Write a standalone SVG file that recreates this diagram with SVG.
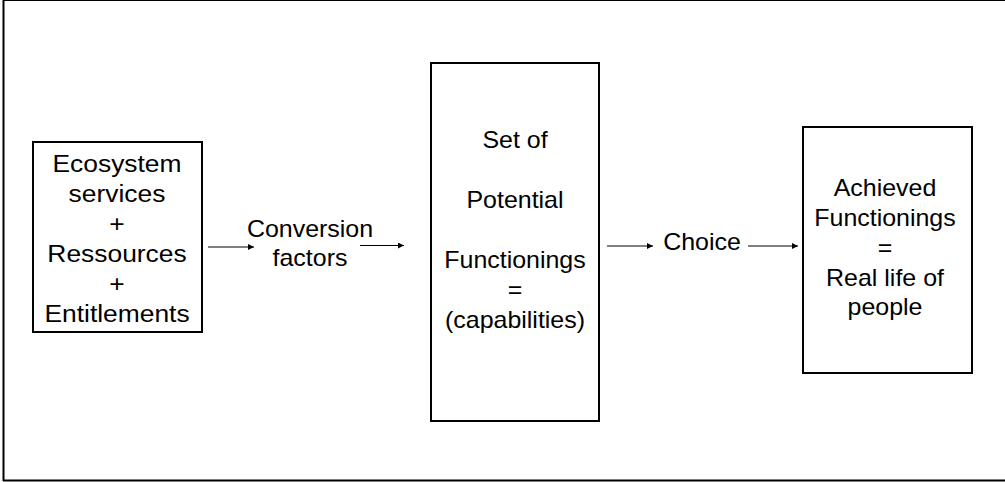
<svg xmlns="http://www.w3.org/2000/svg" width="1005" height="482" viewBox="0 0 1005 482">
<defs>
<style>
.box{fill:#fff;stroke:#000;stroke-width:2}
.t{font-family:"Liberation Sans",Arial,sans-serif;font-size:24px;fill:#000;text-anchor:middle}
.c{stroke:#000;stroke-width:1.2;fill:none;marker-end:url(#ah)}
</style>
<marker id="ah" viewBox="0 0 10 10" refX="10" refY="5" markerWidth="8" markerHeight="6" markerUnits="userSpaceOnUse" orient="auto">
<path d="M0,0 L10,5 L0,10 z" fill="#000"/>
</marker>
</defs>
<rect x="0" y="0" width="1005" height="482" fill="#fff"/>
<g id="frame">
<line x1="3.5" y1="0.5" x2="1005" y2="0.5" stroke="#000" stroke-width="1"/>
<line x1="3.5" y1="0" x2="3.5" y2="481" stroke="#000" stroke-width="2"/>
<line x1="3" y1="480.5" x2="1005" y2="480.5" stroke="#000" stroke-width="2"/>
</g>
<g id="connectors">
<line class="c" x1="208" y1="247" x2="254" y2="247"/>
<line class="c" x1="360" y1="245.5" x2="404" y2="245.5"/>
<line class="c" x1="607" y1="246" x2="653" y2="246"/>
<line class="c" x1="748" y1="246" x2="798" y2="246"/>
</g>
<g id="node-resources">
<rect class="box" x="33" y="142" width="169" height="190"/>
<g transform="translate(117,0) scale(1.1,1)">
<text class="t" x="0" y="172">Ecosystem</text>
<text class="t" x="0" y="202">services</text>
<text class="t" x="0" y="232">+</text>
<text class="t" x="0" y="262">Ressources</text>
<text class="t" x="0" y="292">+</text>
<text class="t" x="0" y="322">Entitlements</text>
</g>
</g>
<g id="label-conversion">
<g transform="translate(310,0) scale(1.04,1)">
<text class="t" x="0" y="237">Conversion</text>
<text class="t" x="0" y="266">factors</text>
</g>
</g>
<g id="node-capabilities">
<rect class="box" x="431" y="63" width="168" height="358"/>
<g transform="translate(515,0) scale(1.04,1)">
<text class="t" x="0" y="148">Set of</text>
<text class="t" x="0" y="208">Potential</text>
<text class="t" x="0" y="268">Functionings</text>
<text class="t" x="0" y="298">=</text>
<text class="t" x="0" y="328">(capabilities)</text>
</g>
</g>
<g id="label-choice">
<g transform="translate(702,0) scale(1.04,1)">
<text class="t" x="0" y="250">Choice</text>
</g>
</g>
<g id="node-achieved">
<rect class="box" x="803" y="127" width="169" height="246"/>
<g transform="translate(885,0) scale(1.04,1)">
<text class="t" x="0" y="196">Achieved</text>
<text class="t" x="0" y="226">Functionings</text>
<text class="t" x="0" y="256">=</text>
<text class="t" x="0" y="286">Real life of</text>
<text class="t" x="0" y="315">people</text>
</g>
</g>
</svg>
